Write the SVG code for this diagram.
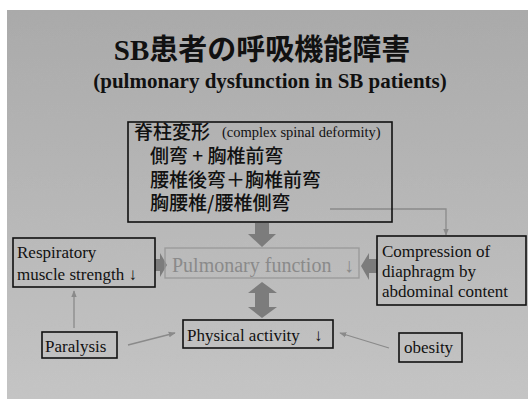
<svg xmlns="http://www.w3.org/2000/svg" width="528" height="399" viewBox="0 0 528 399">
<style>
.box{fill:none;stroke:#111;stroke-width:1.6}
.en{font-family:"Liberation Serif","Times New Roman",serif;fill:#111;font-size:17px}
.jp{font-family:"Noto Sans CJK JP","Noto Sans CJK SC",sans-serif;fill:#111;font-size:19px;font-weight:500}
.thin{fill:none;stroke:#8a8a8a;stroke-width:1.3}
.blk{fill:#7c7c7c}
.pf{font-family:"Liberation Serif","Times New Roman",serif;fill:#8a8a8a;font-size:20px}
</style>
<defs>
<linearGradient id="bg" x1="0" y1="0" x2="0" y2="1">
<stop offset="0" stop-color="#aaaaaa"/>
<stop offset="1" stop-color="#c4c4c4"/>
</linearGradient>
<filter id="noise" x="0" y="0" width="100%" height="100%">
<feTurbulence type="fractalNoise" baseFrequency="0.9" numOctaves="1" seed="3" result="t"/>
<feColorMatrix in="t" type="matrix" values="0 0 0 0 0.5  0 0 0 0 0.5  0 0 0 0 0.5  0.6 0 0 0 -0.1" result="n"/>
<feComposite in="n" in2="SourceGraphic" operator="in" result="m"/>
<feBlend in="SourceGraphic" in2="m" mode="overlay"/>
</filter>
<marker id="ah" viewBox="0 0 10 10" refX="9" refY="5" markerWidth="7" markerHeight="7" orient="auto" markerUnits="userSpaceOnUse">
<path d="M0,1 L10,5 L0,9 Z" fill="#8a8a8a"/>
</marker>
</defs>
<rect x="0" y="0" width="528" height="399" fill="#ffffff"/>
<rect x="7" y="10" width="521" height="389" fill="url(#bg)" filter="url(#noise)"/>

<g id="title">
<text x="262" y="60" text-anchor="middle" font-family="Liberation Serif, Noto Sans CJK JP, serif" font-weight="bold" font-size="29" fill="#111">SB患者の呼吸機能障害</text>
<text x="270" y="88" text-anchor="middle" font-family="Liberation Serif, serif" font-weight="bold" font-size="21" fill="#111">(pulmonary dysfunction in SB patients)</text>
</g>

<g id="connectors">
<polyline class="thin" points="330,209 446,209 446,235" marker-end="url(#ah)"/>
<line class="thin" x1="74" y1="328" x2="74" y2="291" marker-end="url(#ah)"/>
<line class="thin" x1="128" y1="345" x2="175" y2="333" marker-end="url(#ah)"/>
<line class="thin" x1="389" y1="348" x2="340" y2="333" marker-end="url(#ah)"/>
<path class="blk" d="M255,223 H269 V234 H276 L262,247 L248,234 H255 Z"/>
<path class="blk" d="M262,282 L277,293 H269 V307 H277 L262,318 L248,307 H255 V293 H248 Z"/>
<path class="blk" d="M155,259 H160 V253 L167,265 L160,277 V271 H155 Z"/>
<path class="blk" d="M377,259 H369 V253 L361,266 L369,280 V273 H377 Z"/>
</g>

<g id="spinal">
<rect class="box" x="128" y="122" width="264" height="100"/>
<text class="jp" x="134" y="139">脊柱変形</text>
<text class="en" x="222" y="137" style="font-size:14.5px">(complex spinal deformity)</text>
<text class="jp" x="150" y="163">側弯 + 胸椎前弯</text>
<text class="jp" x="150" y="187">腰椎後弯＋胸椎前弯</text>
<text class="jp" x="150" y="210">胸腰椎/腰椎側弯</text>
</g>

<g id="pulmonary">
<rect x="165" y="248" width="194" height="30" fill="none" stroke="#999" stroke-width="1.3"/>
<text class="pf" x="172" y="272">Pulmonary function</text>
<text class="pf" x="344" y="272">↓</text>
</g>

<g id="respiratory">
<rect class="box" x="13" y="238" width="142" height="49"/>
<text class="en" x="17" y="258">Respiratory</text>
<text class="en" x="17" y="280">muscle strength ↓</text>
</g>

<g id="compression">
<rect class="box" x="377" y="236" width="149" height="69"/>
<text class="en" x="382" y="257">Compression of</text>
<text class="en" x="382" y="277">diaphragm by</text>
<text class="en" x="382" y="297">abdominal content</text>
</g>

<g id="physical">
<rect class="box" x="183" y="320" width="150" height="28"/>
<text class="en" x="187" y="341">Physical activity</text>
<text class="en" x="314" y="341">↓</text>
</g>

<g id="paralysis">
<rect class="box" x="42" y="332" width="75" height="26"/>
<text class="en" x="45" y="352">Paralysis</text>
</g>

<g id="obesity">
<rect class="box" x="399" y="333" width="63" height="29"/>
<text class="en" x="404" y="353">obesity</text>
</g>
</svg>
